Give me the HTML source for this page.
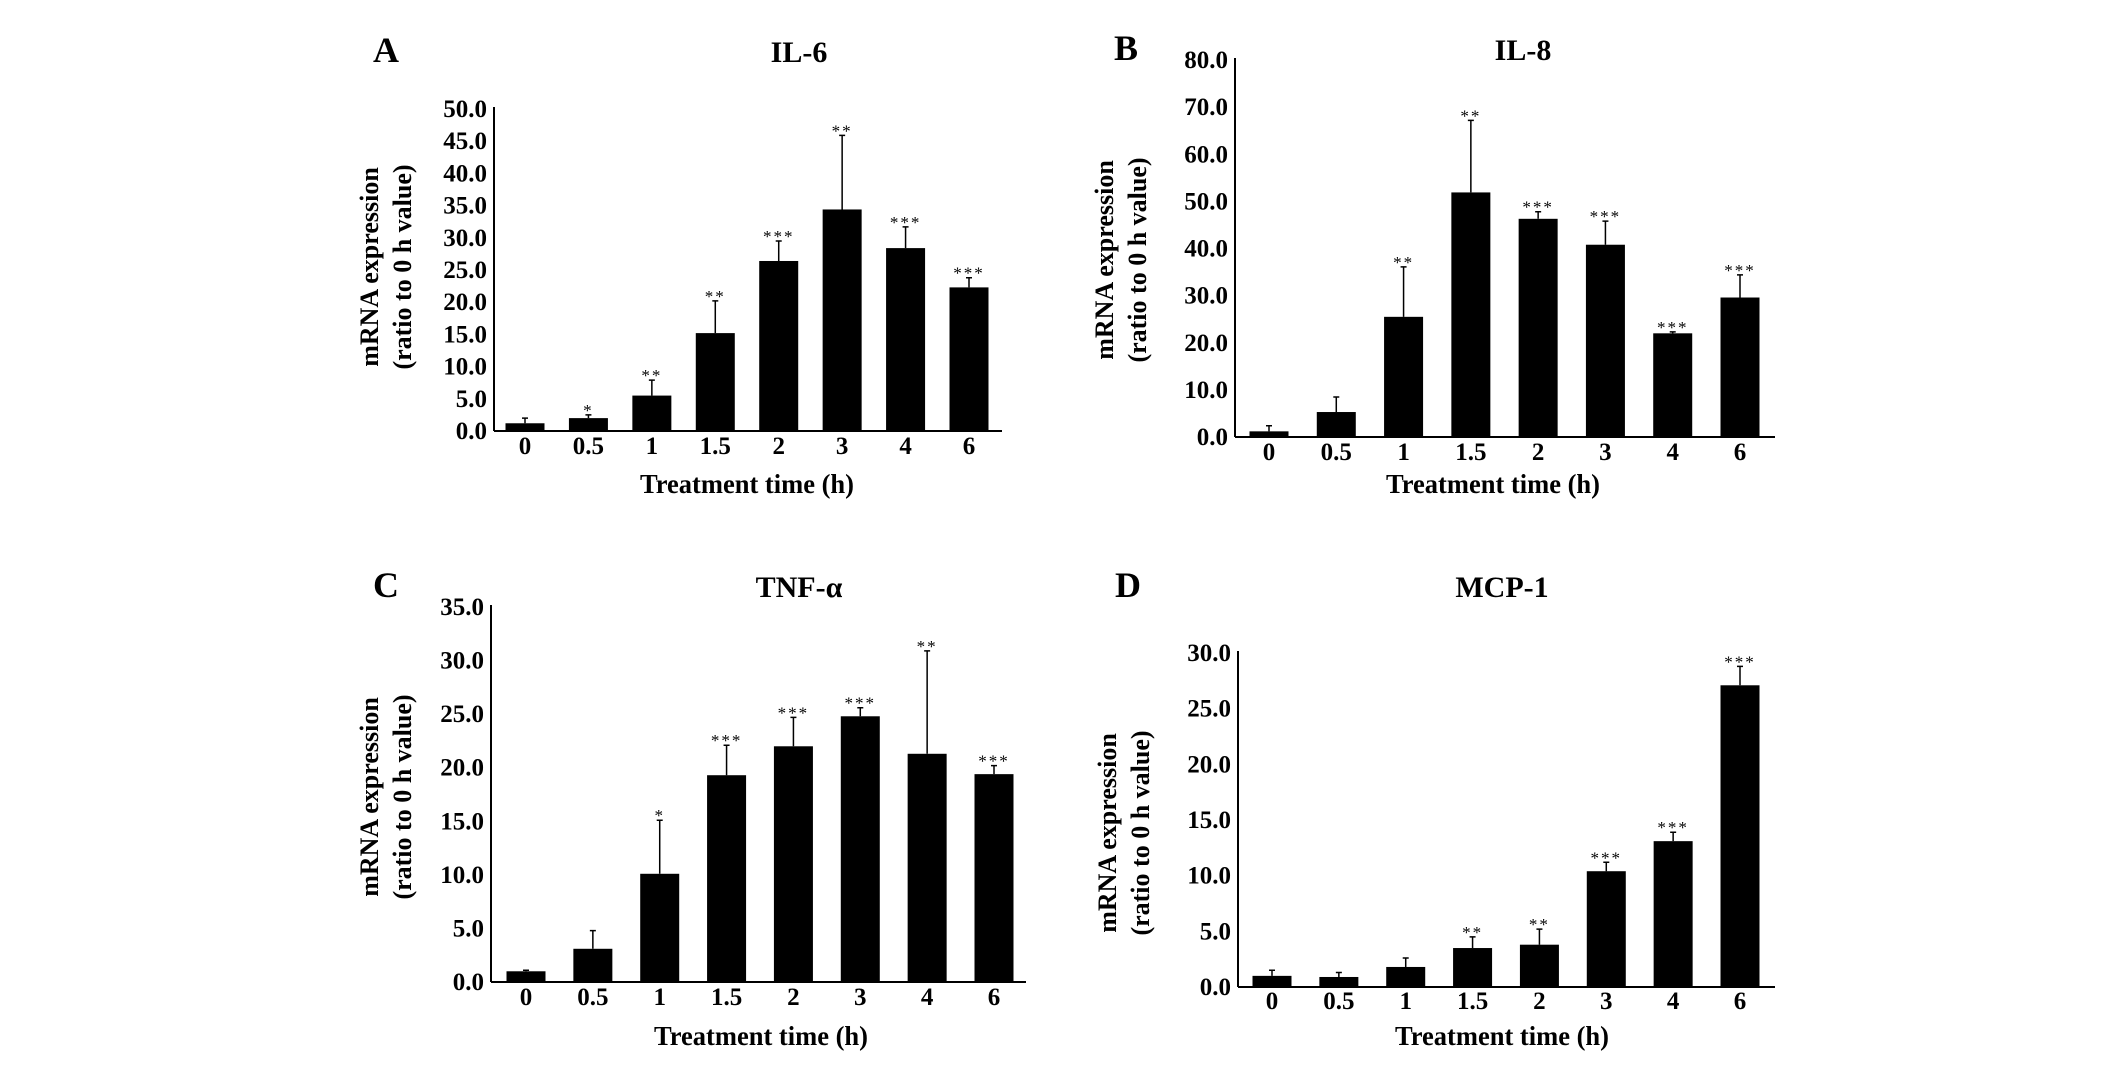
<!DOCTYPE html>
<html><head><meta charset="utf-8">
<style>
html,body{margin:0;padding:0;background:#fff;}
svg{display:block;font-family:"Liberation Serif","DejaVu Serif",serif;font-weight:bold;}
</style></head>
<body>
<svg id="fig" width="2126" height="1067" viewBox="0 0 2126 1067" xmlns="http://www.w3.org/2000/svg"></svg>
<script>
const categories = ["0","0.5","1","1.5","2","3","4","6"];
const il6Values = [1.2,2.0,5.5,15.2,26.4,34.4,28.4,22.3];
const il6Errors = [0.8,0.5,2.4,5.0,3.1,11.5,3.3,1.5];
const il6Stars = ["","*","**","**","***","**","***","***"];
const il6Ticks = [0,5,10,15,20,25,30,35,40,45,50];
const il8Values = [1.2,5.3,25.5,51.9,46.3,40.8,22.0,29.6];
const il8Errors = [1.2,3.2,10.6,15.3,1.5,5.0,0.3,4.8];
const il8Stars = ["","","**","**","***","***","***","***"];
const il8Ticks = [0,10,20,30,40,50,60,70,80];
const tnfValues = [1.0,3.1,10.1,19.3,22.0,24.8,21.3,19.4];
const tnfErrors = [0.1,1.7,5.0,2.8,2.7,0.8,9.6,0.8];
const tnfStars = ["","","*","***","***","***","**","***"];
const tnfTicks = [0,5,10,15,20,25,30,35];
const mcpValues = [1.0,0.9,1.8,3.5,3.8,10.4,13.1,27.1];
const mcpErrors = [0.5,0.4,0.8,1.0,1.4,0.8,0.8,1.7];
const mcpStars = ["","","","**","**","***","***","***"];
const mcpTicks = [0,5,10,15,20,25,30];

const NS="http://www.w3.org/2000/svg";
const svg=document.getElementById('fig');
function mk(tag,attrs,parent){const e=document.createElementNS(NS,tag);for(const k in attrs)e.setAttribute(k,attrs[k]);(parent||svg).appendChild(e);return e;}
function txt(s,attrs,parent){const e=mk('text',attrs,parent);e.textContent=s;return e;}

function panel(cfg,values,errors,stars,ticks){
  const g=mk('g',{});
  
  
  const ymax=ticks[ticks.length-1];
  const y=v=>cfg.base-(v/ymax)*(cfg.base-cfg.top);
  const step=(cfg.xLast-cfg.xFirst)/(categories.length-1);
  const x=i=>cfg.xFirst+i*step;
  const L=txt(cfg.letter,{x:cfg.letterX,y:cfg.titleY,'font-size':36,'text-anchor':'middle'},g);
  
  
  const T=txt(cfg.title,{x:cfg.titleX,y:cfg.titleY,'font-size':30,'text-anchor':'middle'},g);
  
  
  const ya=mk('line',{x1:cfg.ax,y1:cfg.top-2,x2:cfg.ax,y2:cfg.base,stroke:'#000','stroke-width':2},g);
  
  
  const xa=mk('line',{x1:cfg.ax,y1:cfg.base,x2:cfg.xEnd,y2:cfg.base,stroke:'#000','stroke-width':2},g);
  
  
  ticks.forEach(t=>{
    const e=txt(t.toFixed(1),{x:cfg.ax-7,y:y(t)+8,'font-size':25,'text-anchor':'end'},g);
    
    
  });
  categories.forEach((c,i)=>{
    const e=txt(c,{x:x(i),y:cfg.tickY+1,'font-size':25,'text-anchor':'middle'},g);
    
    
    const v=values[i],er=errors[i],bw=39;
    const b=mk('rect',{x:x(i)-bw/2,y:y(v),width:bw,height:cfg.base-y(v),fill:'#000'},g);
    
    
    const et=y(v+er);
    const el=mk('path',{d:`M${x(i)} ${y(v)}V${et}M${x(i)-3} ${et}H${x(i)+3}`,stroke:'#000','stroke-width':1.5,fill:'none'},g);
    
    
    if(stars[i]){
      const s=txt(stars[i],{x:x(i),y:et+1,'font-size':17,'font-weight':'normal','text-anchor':'middle','letter-spacing':2},g);
      
      
    }
  });
  const xt=txt('Treatment time (h)',{x:cfg.xtX,y:cfg.xtY,'font-size':27,'text-anchor':'middle',textLength:214,lengthAdjust:'spacingAndGlyphs'},g);
  
  
  const yt=mk('text',{transform:`translate(${cfg.ytX},${cfg.ytY}) rotate(-90)`,'font-size':26,'text-anchor':'middle'},g);
  
  
  const t1=mk('tspan',{x:0,y:0},yt);t1.textContent='mRNA expression';
  const t2=mk('tspan',{x:0,y:33},yt);t2.textContent='(ratio to 0 h value)';
}

panel({id:'il6',letter:'A',title:'IL-6',letterX:386,titleX:799,titleY:62,ax:494,top:109,base:431,xEnd:1002,xFirst:525,xLast:969,tickY:453,xtX:747,xtY:493,ytX:378,ytY:267},il6Values,il6Errors,il6Stars,il6Ticks);
panel({id:'il8',letter:'B',title:'IL-8',letterX:1126,titleX:1523,titleY:60,ax:1235,top:60,base:437,xEnd:1775,xFirst:1269,xLast:1740,tickY:459,xtX:1493,xtY:493,ytX:1113,ytY:260},il8Values,il8Errors,il8Stars,il8Ticks);
panel({id:'tnf',letter:'C',title:'TNF-α',letterX:386,titleX:799,titleY:597,ax:491,top:607,base:982,xEnd:1026,xFirst:526,xLast:994,tickY:1004,xtX:761,xtY:1045,ytX:378,ytY:797},tnfValues,tnfErrors,tnfStars,tnfTicks);
panel({id:'mcp',letter:'D',title:'MCP-1',letterX:1128,titleX:1502,titleY:597,ax:1238,top:653,base:987,xEnd:1775,xFirst:1272,xLast:1740,tickY:1008,xtX:1502,xtY:1045,ytX:1116,ytY:833},mcpValues,mcpErrors,mcpStars,mcpTicks);
</script>
</body></html>
